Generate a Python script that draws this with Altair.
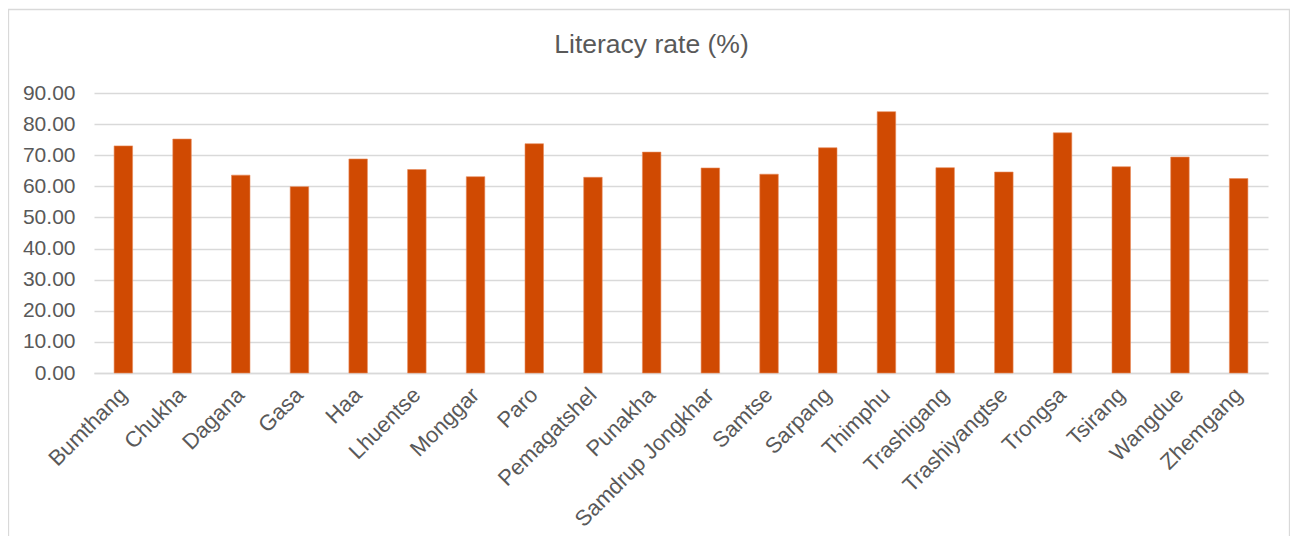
import altair as alt
import pandas as pd

districts = ["Bumthang", "Chukha", "Dagana", "Gasa", "Haa", "Lhuentse", "Monggar",
             "Paro", "Pemagatshel", "Punakha", "Samdrup Jongkhar", "Samtse", "Sarpang",
             "Thimphu", "Trashigang", "Trashiyangtse", "Trongsa", "Tsirang", "Wangdue",
             "Zhemgang"]
literacy = [73.0, 75.2, 63.6, 59.9, 68.8, 65.4, 63.1, 73.7, 62.9, 71.0, 65.9, 63.9,
            72.4, 84.0, 66.0, 64.6, 77.2, 66.3, 69.4, 62.5]
y_ticks = [0, 10, 20, 30, 40, 50, 60, 70, 80, 90]
chart_title = "Literacy rate (%)"

df = pd.DataFrame({"District": districts, "Literacy": literacy})

FONT = "Liberation Sans"
GREY = "#595959"
GRID = "#D9D9D9"
W, H = 1174, 280

bars = alt.Chart(df).mark_bar(color="#D04A02", stroke="#E8895A", strokeWidth=0.6).encode(
    x=alt.X("District:N", sort=districts,
            scale=alt.Scale(paddingInner=0.685, paddingOuter=0.3425),
            axis=alt.Axis(title=None, labelAngle=-45, labelFontSize=22, labelColor=GREY,
                          labelFont=FONT, ticks=False, domainColor=GRID, domainWidth=1.4,
                          labelPadding=18, labelAlign="right", labelBaseline="middle",
                          labelOverlap=False, labelLimit=0)),
    y=alt.Y("Literacy:Q", scale=alt.Scale(domain=[0, 90], nice=False),
            axis=alt.Axis(title=None, values=y_ticks, format=".2f", labelFontSize=21,
                          labelColor=GREY, labelFont=FONT, ticks=False, domain=False,
                          gridColor=GRID, gridWidth=1.4, labelPadding=19)),
)

border = alt.Chart(alt.Data(values=[{}])).mark_rect(
    fill="white", fillOpacity=0, stroke=GRID, strokeWidth=1.3
).encode(
    x=alt.value(-85.5), x2=alt.value(W + 21.5),
    y=alt.value(-83.5), y2=alt.value(H + 200),
)

title = alt.Chart(alt.Data(values=[{"t": chart_title}])).mark_text(
    font=FONT, fontSize=26.5, color=GREY, align="center", baseline="alphabetic"
).encode(
    text="t:N",
    x=alt.value(W / 2 - 29.5),
    y=alt.value(-40),
)

chart = alt.layer(border, bars, title).properties(
    width=W, height=H,
    background="white",
    autosize=alt.AutoSizeParams(type="none"),
    padding={"left": 86, "top": 85, "right": 22, "bottom": 163},
).configure_view(strokeWidth=0, stroke="transparent")

chart.save("out.html", embed_options={"renderer": "svg", "actions": False})
